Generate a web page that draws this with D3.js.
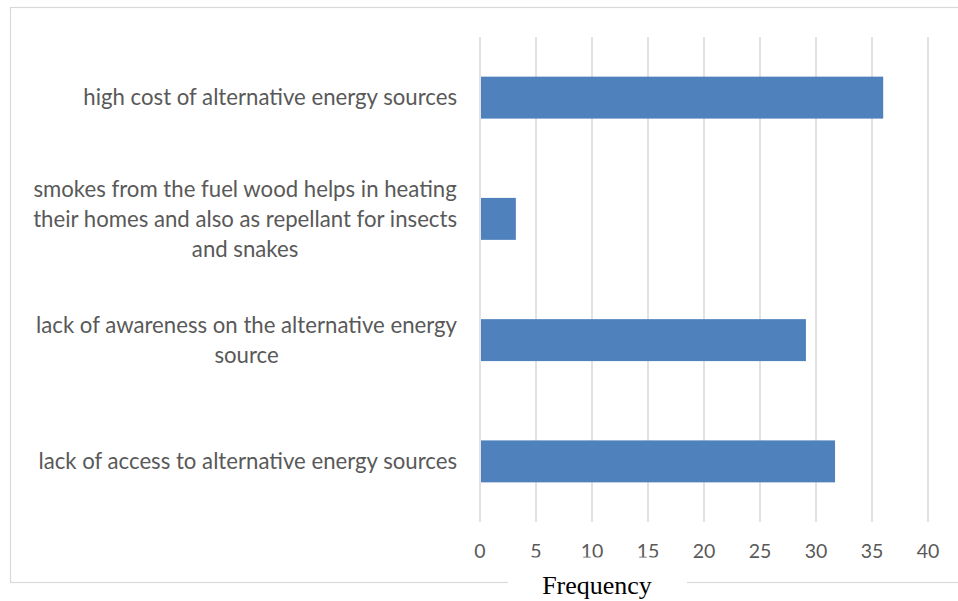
<html>
<head>
<meta charset="utf-8">
<script src="https://cdn.jsdelivr.net/npm/d3@7"></script>
<style>
body { margin:0; background:#fff; }
</style>
</head>
<body>
<div id="chart"></div>
<script>
// categories top to bottom, each one already split into its wrapped lines
var categories = ["high cost", "smokes", "lack of awareness", "lack of access"]
var labelLines = [
  ["high cost of alternative energy sources"],
  ["smokes from the fuel wood helps in heating", "their homes and also as repellant for insects", "and snakes"],
  ["lack of awareness on the alternative energy", "source"],
  ["lack of access to alternative energy sources"]
]
var values = [36.0, 3.2, 29.1, 31.7]
var xTicks = [0, 5, 10, 15, 20, 25, 30, 35, 40]
var axisTitle = "Frequency"

var W = 958, H = 601
svg = d3.select("#chart").append("svg").attr("width", W).attr("height", H)

// outer frame (right edge runs off the picture)
svg.append("rect").attr("x", 10.5).attr("y", 7.5).attr("width", 960).attr("height", 575)
  .attr("fill", "white").attr("stroke", "#d9d9d9").attr("stroke-width", 1.2)

x = d3.scaleLinear().domain([0, 40]).range([480, 928])
y = d3.scaleBand().domain(categories).range([37, 522]).paddingInner(0.654).paddingOuter(0.327)

// vertical gridlines
svg.append("g").selectAll("line").data(xTicks).enter().append("line")
  .attr("x1", function(d){ return x(d) }).attr("x2", function(d){ return x(d) })
  .attr("y1", 37).attr("y2", 522)
  .attr("stroke", "#d9d9d9").attr("stroke-width", 1.5)

// bars
svg.append("g").selectAll("rect").data(values).enter().append("rect")
  .attr("x", x(0) + 1)
  .attr("y", function(d, i){ return y(categories[i]) })
  .attr("width", function(d){ return x(d) - x(0) - 1 })
  .attr("height", y.bandwidth())
  .attr("fill", "#4f81bd")

// tick labels
svg.append("g").selectAll("text").data(xTicks).enter().append("text")
  .attr("x", function(d){ return x(d) }).attr("y", 558)
  .attr("text-anchor", "middle")
  .attr("font-family", "Lato, 'Open Sans', sans-serif").attr("font-size", 19.5)
  .attr("fill", "#595959")
  .text(function(d){ return d })

// category labels: lines centred inside a block whose right edge sits at 457
var fs = 20
var labG = svg.append("g").attr("font-family", "Lato, 'Open Sans', sans-serif").attr("fill", "#595959")
// size the font so the first label is as wide as in the picture
var probe = labG.append("text").attr("font-size", fs).text(labelLines[0][0])
fs = fs * 374 / probe.node().getComputedTextLength()
probe.remove()

labelLines.forEach(function(lines, i){
  var g = labG.append("g")
  var lh = 30
  var cy = y(categories[i]) + y.bandwidth() / 2
  var t = g.selectAll("text").data(lines).enter().append("text")
    .attr("font-size", fs)
    .attr("text-anchor", "middle")
    .attr("y", function(d, j){ return cy + (j - (lines.length - 1) / 2) * lh + fs * 0.35 })
    .text(function(d){ return d })
  var wmax = d3.max(t.nodes(), function(n){ return n.getComputedTextLength() })
  t.attr("x", 457 - wmax / 2)
})

// axis title on a white patch that cuts the frame
svg.append("rect").attr("x", 508).attr("y", 557.5).attr("width", 179).attr("height", 50).attr("fill", "white")
svg.append("text").attr("x", 597).attr("y", 594)
  .attr("text-anchor", "middle")
  .attr("font-family", "'Liberation Serif', 'Times New Roman', serif").attr("font-size", 26)
  .attr("fill", "black")
  .text(axisTitle)
</script>
</body>
</html>
